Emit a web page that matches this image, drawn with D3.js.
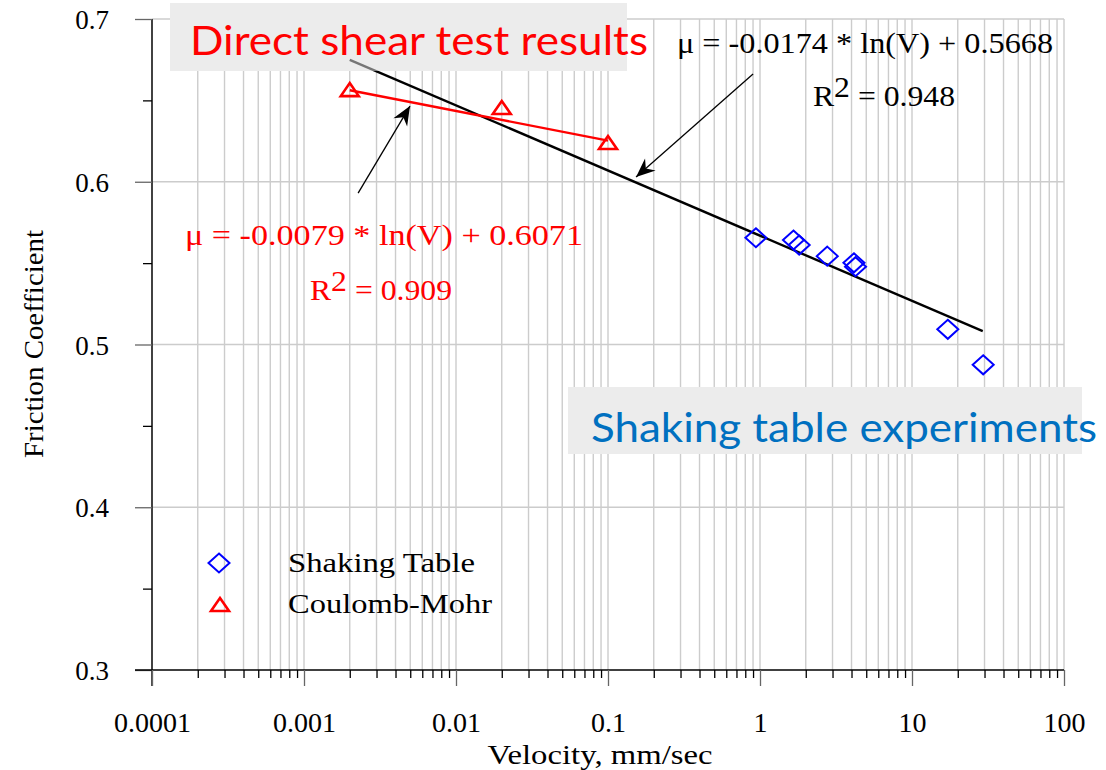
<!DOCTYPE html>
<html>
<head>
<meta charset="utf-8">
<script src="https://cdn.jsdelivr.net/npm/d3@7"></script>
<style>
  html, body { margin: 0; padding: 0; background: #fff; }
  svg { display: block; }
</style>
</head>
<body>
<svg id="chart" width="1106" height="770"></svg>
<script>
// ---------------- DATA ----------------
// Shaking table experiments (velocity mm/sec, friction coefficient)
const shakingV  = [0.94, 1.66, 1.81, 2.77, 4.15, 4.25, 17.2, 29.4];
const shakingMu = [0.5656, 0.5642, 0.5611, 0.5543, 0.5502, 0.5478, 0.5093, 0.4875];

// Direct shear (Coulomb-Mohr) tests
const shearV  = [0.002, 0.02, 0.1];
const shearMu = [0.6557, 0.6447, 0.6232];

// Trendline end points
const fitShakingV  = [0.002, 29.2];
const fitShakingMu = [0.6749, 0.5082];
const fitShearV    = [0.002, 0.1];
const fitShearMu   = [0.6562, 0.6253];

// Axis ticks
const xMajorTicks  = [0.0001, 0.001, 0.01, 0.1, 1, 10, 100];
const xTickLabels  = ["0.0001", "0.001", "0.01", "0.1", "1", "10", "100"];
const xMinorMult   = [2, 3, 4, 5, 6, 7, 8, 9];
const yMajorTicks  = [0.3, 0.4, 0.5, 0.6, 0.7];
const yTickLabels  = ["0.3", "0.4", "0.5", "0.6", "0.7"];
const yMinorTicks  = [0.35, 0.45, 0.55, 0.65];

// Annotation arrows (tail -> tip, in data units)
const arrowBlack = { from: [0.9, 0.6662], to: [0.153, 0.6029] };
const arrowRed   = { from: [0.00227, 0.593], to: [0.00498, 0.6465] };

// Text
const xTitle = "Velocity, mm/sec";
const yTitle = "Friction Coefficient";
const legendLabels = ["Shaking Table", "Coulomb-Mohr"];
const eqBlack = "μ = -0.0174 * ln(V) + 0.5668";
const r2Black = "0.948";
const eqRed   = "μ = -0.0079 * ln(V) + 0.6071";
const r2Red   = "0.909";
const titleShear = "Direct shear test results";
const titleShake = "Shaking table experiments";

// ---------------- LAYOUT ----------------
const svg = d3.select("#chart");
const pLeft = 152, pRight = 1064, pTop = 19, pBottom = 670;
const x = d3.scaleLog().domain([1e-4, 100]).range([pLeft, pRight]);
const y = d3.scaleLinear().domain([0.3, 0.7]).range([pBottom, pTop]);
const serif = "'Liberation Serif', 'Times New Roman', serif";
const sans = "Lato, 'Open Sans', sans-serif";
const gridColor = "#cccccc";

// all vertical grid values
const xMinorTicks = [];
xMajorTicks.slice(0, -1).forEach(d => xMinorMult.forEach(m => xMinorTicks.push(d * m)));
const xGridVals = xMajorTicks.concat(xMinorTicks);

// Grid
const grid = svg.append("g");
grid.selectAll("line.v").data(xGridVals).join("line")
  .attr("x1", d => x(d)).attr("x2", d => x(d))
  .attr("y1", y(0.7)).attr("y2", y(0.3))
  .attr("stroke", gridColor).attr("stroke-width", 1.4);
grid.selectAll("line.h").data(yMajorTicks.filter(d => d > 0.3)).join("line")
  .attr("x1", pLeft).attr("x2", pRight)
  .attr("y1", d => y(d)).attr("y2", d => y(d))
  .attr("stroke", gridColor).attr("stroke-width", 1.4);

// Gray boxes behind titles
const box1 = { x: 170, y: 3, w: 457, h: 68 };
const box2 = { x: 568, y: 387, w: 514, h: 67 };
[box1, box2].forEach(b => {
  svg.append("rect").attr("x", b.x).attr("y", b.y).attr("width", b.w).attr("height", b.h)
    .attr("fill", "#ececec");
});

// Axes
function styleAxis(g) {
  g.select(".domain").attr("stroke", "#000").attr("stroke-width", 1.4);
  g.selectAll(".tick line").attr("stroke", "#000").attr("stroke-width", 1.3);
  g.selectAll(".tick text").attr("font-family", serif).attr("fill", "#000");
}
const yMajor = svg.append("g").attr("transform", `translate(${pLeft},0)`)
  .call(d3.axisLeft(y).tickValues(yMajorTicks).tickSize(17).tickPadding(26)
    .tickFormat((d, i) => yTickLabels[i]).tickSizeOuter(0));
styleAxis(yMajor);
yMajor.selectAll(".tick text").attr("font-size", 27).attr("dy", "0.36em");
yMajor.selectAll(".tick line").attr("stroke", "#666");
yMajor.select(".domain").attr("d", `M0,${y(0.7)}V${pBottom + 16}`);

const yMinor = svg.append("g").attr("transform", `translate(${pLeft},0)`)
  .call(d3.axisLeft(y).tickValues(yMinorTicks).tickSize(9).tickFormat(""));
styleAxis(yMinor);
yMinor.select(".domain").remove();

const xMajor = svg.append("g").attr("transform", `translate(0,${pBottom})`)
  .call(d3.axisBottom(x).tickValues(xMajorTicks).tickSize(16).tickPadding(26)
    .tickFormat((d, i) => xTickLabels[i]).tickSizeOuter(0));
styleAxis(xMajor);
xMajor.selectAll(".tick text").attr("font-size", 28);
xMajor.selectAll(".tick line").attr("stroke", "#666");
xMajor.select(".domain").attr("d", `M${pLeft - 17},0H${pRight}`);

const xMinor = svg.append("g").attr("transform", `translate(0,${pBottom})`)
  .call(d3.axisBottom(x).tickValues(xMinorTicks).tickSize(8).tickFormat(""));
styleAxis(xMinor);
xMinor.select(".domain").remove();

// Axis titles
svg.append("text").attr("x", (pLeft + pRight) / 2 - 8).attr("y", 764)
  .attr("text-anchor", "middle").attr("font-family", serif).attr("font-size", 28)
  .attr("textLength", 225).attr("lengthAdjust", "spacingAndGlyphs")
  .text(xTitle);
svg.append("text").attr("transform", "translate(43,344) rotate(-90)")
  .attr("text-anchor", "middle").attr("font-family", serif).attr("font-size", 28)
  .attr("textLength", 228).attr("lengthAdjust", "spacingAndGlyphs")
  .text(yTitle);

// Trend lines
const line = d3.line().x(d => x(d[0])).y(d => y(d[1]));
const blackFit = fitShakingV.map((v, i) => [v, fitShakingMu[i]]);
const redFit = fitShearV.map((v, i) => [v, fitShearMu[i]]);
svg.append("path").datum(blackFit).attr("d", line)
  .attr("fill", "none").attr("stroke", "#000").attr("stroke-width", 2.4);
// translucent overlay of the title box over the black line
svg.append("rect").attr("x", box1.x).attr("y", box1.y).attr("width", box1.w).attr("height", box1.h)
  .attr("fill", "#ececec").attr("fill-opacity", 0.5);
svg.append("path").datum(redFit).attr("d", line)
  .attr("fill", "none").attr("stroke", "#ff0000").attr("stroke-width", 2.4);

// Markers
const diamond = (cx, cy, r) => `M${cx},${cy - r}L${cx + r + 1},${cy}L${cx},${cy + r}L${cx - r - 1},${cy}Z`;
const triangle = (cx, cy) => `M${cx},${cy - 8}L${cx + 9},${cy + 5}L${cx - 9},${cy + 5}Z`;

svg.append("g").selectAll("path").data(shakingV.map((v, i) => [v, shakingMu[i]])).join("path")
  .attr("d", d => diamond(x(d[0]), y(d[1]), 9.5))
  .attr("fill", "none").attr("stroke", "#0000ff").attr("stroke-width", 2);
svg.append("g").selectAll("path").data(shearV.map((v, i) => [v, shearMu[i]])).join("path")
  .attr("d", d => triangle(x(d[0]), y(d[1])))
  .attr("fill", "none").attr("stroke", "#ff0000").attr("stroke-width", 2.6);

// Arrows
const defs = svg.append("defs");
defs.append("marker").attr("id", "ah").attr("viewBox", "-20 -10 22 20")
  .attr("refX", 0).attr("refY", 0).attr("markerWidth", 22).attr("markerHeight", 20)
  .attr("markerUnits", "userSpaceOnUse").attr("orient", "auto")
  .append("path").attr("d", "M0,0L-19,-8L-13,0L-19,8Z").attr("fill", "#000");
[arrowBlack, arrowRed].forEach(a => {
  svg.append("line")
    .attr("x1", x(a.from[0])).attr("y1", y(a.from[1]))
    .attr("x2", x(a.to[0])).attr("y2", y(a.to[1]))
    .attr("stroke", "#000").attr("stroke-width", 1.3).attr("marker-end", "url(#ah)");
});

// Equations
function equation(txt, r2, color, ex, ey, ew, rx, ry, rw) {
  svg.append("text").attr("x", ex).attr("y", ey).attr("font-family", serif)
    .attr("font-size", 29).attr("fill", color)
    .attr("textLength", ew).attr("lengthAdjust", "spacingAndGlyphs").text(txt);
  const t = svg.append("text").attr("x", rx).attr("y", ry).attr("font-family", serif)
    .attr("font-size", 29).attr("fill", color)
    .attr("textLength", rw).attr("lengthAdjust", "spacingAndGlyphs");
  t.append("tspan").text("R");
  t.append("tspan").attr("dy", -9).text("2");
  t.append("tspan").attr("dy", 9).text(" = " + r2);
}
equation(eqBlack, r2Black, "#000", 677, 53, 376, 813, 106, 142);
equation(eqRed, r2Red, "#ff0000", 185, 245, 398, 310, 300, 142);

// Titles in boxes
svg.append("text").attr("x", 190).attr("y", 55).attr("font-family", sans)
  .attr("font-size", 40).attr("fill", "#ff0000")
  .attr("textLength", 458).attr("lengthAdjust", "spacingAndGlyphs").text(titleShear);
svg.append("text").attr("x", 591).attr("y", 442).attr("font-family", sans)
  .attr("font-size", 41).attr("fill", "#0070c0")
  .attr("textLength", 506).attr("lengthAdjust", "spacingAndGlyphs").text(titleShake);

// Legend
const legend = svg.append("g");
legend.append("path").attr("d", diamond(219, 563, 9.5))
  .attr("fill", "none").attr("stroke", "#0000ff").attr("stroke-width", 2);
legend.append("path").attr("d", triangle(220, 606))
  .attr("fill", "none").attr("stroke", "#ff0000").attr("stroke-width", 2.6);
legend.append("text").attr("x", 288).attr("y", 572).attr("font-family", serif)
  .attr("font-size", 27).attr("textLength", 187).attr("lengthAdjust", "spacingAndGlyphs")
  .text(legendLabels[0]);
legend.append("text").attr("x", 288).attr("y", 613).attr("font-family", serif)
  .attr("font-size", 27).attr("textLength", 204).attr("lengthAdjust", "spacingAndGlyphs")
  .text(legendLabels[1]);
</script>
</body>
</html>
